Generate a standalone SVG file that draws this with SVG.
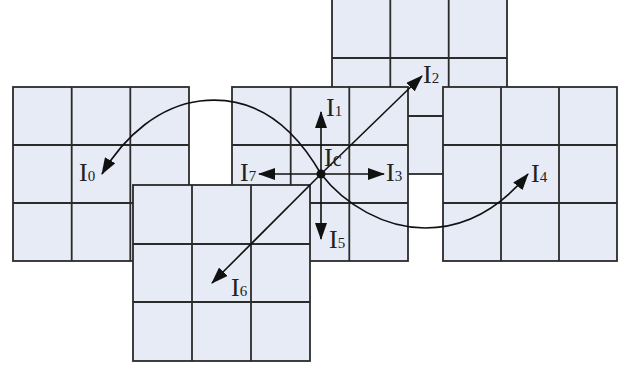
<svg xmlns="http://www.w3.org/2000/svg" width="628" height="367" viewBox="0 0 628 367">
<style>
.cell{fill:#e6ebf5;stroke:#2b2b2b;stroke-width:1.8}
.in{fill:none;stroke:#2b2b2b;stroke-width:1.8}
.arr{fill:none;stroke:#111;stroke-width:1.6;marker-end:url(#ah)}
.lb{font-family:"Liberation Serif","Times New Roman",serif;font-size:26px;fill:#222}
.sb{font-size:15px}
</style>
<defs>
<marker id="ah" markerUnits="userSpaceOnUse" markerWidth="17" markerHeight="12" refX="16" refY="6" orient="auto" viewBox="0 0 17 12">
<path d="M0,0 L17,6 L0,12 z" fill="#111"/>
</marker>
</defs>
<rect width="628" height="367" fill="#fff"/>
<g id="grid-top">
<rect class="cell" x="332" y="-2" width="175" height="176"/>
<path class="in" d="M390.3,-2V174M448.7,-2V174M332,58H507M332,116H507"/>
</g>
<g id="grid-left">
<rect class="cell" x="13" y="87" width="176" height="174"/>
<path class="in" d="M71.7,87V261M130.3,87V261M13,145H189M13,203H189"/>
</g>
<g id="grid-center">
<rect class="cell" x="232" y="87" width="176" height="174"/>
<path class="in" d="M290.7,87V261M349.3,87V261M232,145H408M232,203H408"/>
</g>
<g id="grid-right">
<rect class="cell" x="443" y="87" width="174" height="174"/>
<path class="in" d="M501,87V261M559,87V261M443,145H617M443,203H617"/>
</g>
<g id="grid-bottom">
<rect class="cell" x="133" y="185" width="177" height="176"/>
<path class="in" d="M192,185V361M251,185V361M133,244H310M133,302H310"/>
</g>
<g id="connectors">
<path class="arr" d="M321,174 C290,120 250,95 200,101 C160,106 125,135 102,174"/>
<path class="arr" d="M321,174 C345,205 385,228 425,228 C465,228 500,208 528,174"/>
<path class="arr" d="M321,174 V112"/>
<path class="arr" d="M321,174 H384"/>
<path class="arr" d="M321,174 H259"/>
<path class="arr" d="M321,174 V239"/>
<path class="arr" d="M321,174 L422,76"/>
<path class="arr" d="M321,174 L212,283"/>
<circle cx="321" cy="174" r="4.5" fill="#111"/>
</g>
<g id="labels">
<text class="lb" x="79" y="181">I<tspan class="sb">0</tspan></text>
<text class="lb" x="326" y="116">I<tspan class="sb">1</tspan></text>
<text class="lb" x="423" y="83">I<tspan class="sb">2</tspan></text>
<text class="lb" x="386" y="181">I<tspan class="sb">3</tspan></text>
<text class="lb" x="531" y="182">I<tspan class="sb">4</tspan></text>
<text class="lb" x="329" y="248">I<tspan class="sb">5</tspan></text>
<text class="lb" x="231" y="296">I<tspan class="sb">6</tspan></text>
<text class="lb" x="240" y="181">I<tspan class="sb">7</tspan></text>
<text class="lb" x="324" y="166">I<tspan style="font-size:20px">c</tspan></text>
</g>
</svg>
